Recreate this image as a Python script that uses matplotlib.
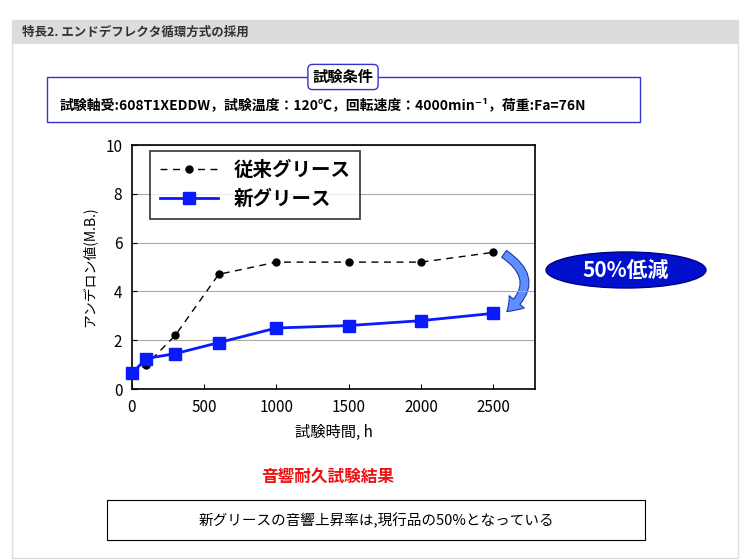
import matplotlib
matplotlib.use("Agg")
import matplotlib.pyplot as plt
from matplotlib.patches import Rectangle, Ellipse, FancyArrowPatch

plt.rcParams["font.family"] = ["Noto Sans CJK JP", "DejaVu Sans"]

hours = [0, 100, 300, 600, 1000, 1500, 2000, 2500]
old_grease = [0.6, 1.0, 2.2, 4.7, 5.2, 5.2, 5.2, 5.6]
new_grease = [0.65, 1.25, 1.45, 1.9, 2.5, 2.6, 2.8, 3.1]
xticks = [0, 500, 1000, 1500, 2000, 2500]
yticks = [0, 2, 4, 6, 8, 10]

W, H = 750, 560
fig = plt.figure(figsize=(7.5, 5.6), dpi=100)

def fx(px): return px / W
def fy(py): return 1 - py / H

# outer frame
fig.patches.append(Rectangle((fx(12), fy(558)), fx(726), 538 / H, transform=fig.transFigure,
                             facecolor="none", edgecolor="#dddddd", lw=1, zorder=-1))
# header strip
fig.patches.append(Rectangle((fx(12), fy(44)), fx(726), 24 / H, transform=fig.transFigure,
                             facecolor="#dcdcdc", edgecolor="none"))
fig.text(fx(22), fy(32), "特長2. エンドデフレクタ循環方式の採用", fontsize=9, fontweight="bold",
         va="center", color="#333")

# condition box
fig.patches.append(Rectangle((fx(47), fy(122)), fx(593), 45 / H, transform=fig.transFigure,
                             facecolor="white", edgecolor="#3333cc", lw=1))
fig.text(fx(343), fy(77), "試験条件", fontsize=11, fontweight="bold", ha="center", va="center",
         bbox=dict(boxstyle="round,pad=0.3", fc="white", ec="#3333cc", lw=1))
fig.text(fx(60), fy(105), "試験軸受:608T1XEDDW，試験温度：120℃，回転速度：4000min⁻¹，荷重:Fa=76N",
         fontsize=10, fontweight="bold", va="center")

ax = fig.add_axes([fx(132), fy(389), fx(403), 244 / H])
ax.set_facecolor("white")
ax.plot(hours, old_grease, color="black", ls=(0, (5, 4)), lw=1, marker="o", ms=5,
        label="従来グリース", clip_on=False, zorder=3)
ax.plot(hours, new_grease, color="#0a1aff", lw=2, marker="s", ms=8,
        label="新グリース", clip_on=False, zorder=4)
ax.set_xlim(0, 2790)
ax.set_ylim(0, 10)
ax.set_xticks(xticks)
ax.set_yticks(yticks)
ax.tick_params(labelsize=11, direction="in", pad=7)
ax.grid(axis="y", color="#aaaaaa", lw=0.8)
for s in ax.spines.values():
    s.set_linewidth(1.2)
ax.set_xlabel("試験時間, h", fontsize=11, labelpad=6)
ax.set_ylabel("アンデロン値(M.B.)", fontsize=10, labelpad=6)
leg = ax.legend(loc="upper left", frameon=True, fancybox=False, edgecolor="black",
                handlelength=3, borderaxespad=0.3, borderpad=0.5, bbox_to_anchor=(0.03, 1.0),
                prop={"weight": "bold", "size": 14})
leg.get_frame().set_linewidth(1.2)

# curved arrow
arr = FancyArrowPatch((2560, 5.6), (2580, 3.1), connectionstyle="arc3,rad=-0.7",
                      arrowstyle="simple,head_width=14,head_length=10,tail_width=6",
                      color="#5f8fff", ec="#1a3aaa", lw=0.8, transform=ax.transData, clip_on=False)
ax.add_patch(arr)

# ellipse label
fig.patches.append(Ellipse((fx(626), fy(270)), fx(160), 36 / H, transform=fig.transFigure,
                           facecolor="#0010cc", edgecolor="#000080"))
fig.text(fx(626), fy(270), "50%低減", fontsize=15, fontweight="bold", color="white",
         ha="center", va="center")

fig.text(fx(328), fy(477), "音響耐久試験結果", fontsize=12, fontweight="bold", color="#ee1111",
         ha="center", va="center")
fig.patches.append(Rectangle((fx(107), fy(540)), fx(538), 40 / H, transform=fig.transFigure,
                             facecolor="white", edgecolor="black", lw=0.8))
fig.text(fx(376), fy(520), "新グリースの音響上昇率は,現行品の50%となっている", fontsize=10.5,
         ha="center", va="center")

fig.savefig("out.png", dpi=100)
